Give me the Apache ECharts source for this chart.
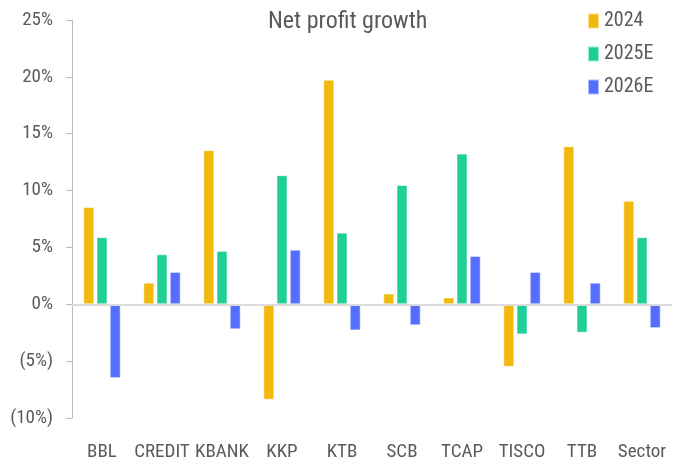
<!DOCTYPE html>
<html>
<head>
<meta charset="utf-8">
<script src="https://cdn.jsdelivr.net/npm/echarts@6/dist/echarts.min.js"></script>
<style>
  html, body { margin: 0; padding: 0; background: #fff; }
  #chart { width: 680px; height: 467px; }
</style>
</head>
<body>
<div id="chart"></div>
<script>
// banks
const banks = ['BBL', 'CREDIT', 'KBANK', 'KKP', 'KTB', 'SCB', 'TCAP', 'TISCO', 'TTB', 'Sector']

// net profit growth, %
const growth2024 = [8.55, 1.9, 13.55, -8.4, 19.75, 0.95, 0.6, -5.5, 13.9, 9.1]
const growth2025E = [5.9, 4.4, 4.7, 11.35, 6.3, 10.5, 13.25, -2.65, -2.5, 5.9]
const growth2026E = [-6.5, 2.85, -2.2, 4.8, -2.3, -1.85, 4.25, 2.85, 1.9, -2.1]

const font = '"Liberation Sans Narrow", "Roboto Condensed", Roboto, sans-serif'
const textColor = '#5a5a5a'

const chart = echarts.init(document.getElementById('chart'))

const barSeries = (name, data, color) => ({
  name: name,
  type: 'bar',
  data: data,
  barWidth: 11,
  barGap: '20%',
  itemStyle: {
    color: color,
    borderColor: 'rgba(255,255,255,0.55)',
    borderWidth: 1
  }
})

const series = [
  barSeries('2024', growth2024, '#F0B90B'),
  barSeries('2025E', growth2025E, '#20CF98'),
  barSeries('2026E', growth2026E, '#566EFF')
]

// zero line
series[0].markLine = {
  silent: true,
  symbol: 'none',
  label: { show: false },
  lineStyle: { color: '#dcdcdc', width: 2, type: 'solid' },
  data: [{ yAxis: 0 }]
}

chart.setOption({
  animation: false,
  title: {
    text: 'Net profit growth',
    left: 263,
    top: 5,
    textStyle: { fontFamily: font, fontSize: 24, fontWeight: 'normal', color: textColor }
  },
  legend: {
    orient: 'vertical',
    left: 582,
    top: 6,
    itemWidth: 11,
    itemHeight: 15,
    itemGap: 13,
    icon: 'rect',
    textStyle: { fontFamily: font, fontSize: 20, color: textColor }
  },
  grid: { left: 72, right: 8, top: 20, bottom: 49 },
  xAxis: {
    type: 'category',
    data: banks,
    axisLine: { show: false, onZero: false },
    axisTick: { show: false },
    axisLabel: { interval: 0, margin: 25, fontFamily: font, fontSize: 19, color: textColor }
  },
  yAxis: {
    type: 'value',
    min: -10,
    max: 25,
    interval: 5,
    axisLine: { show: true, lineStyle: { color: '#bdbdbd' } },
    axisTick: { show: true, length: 6, lineStyle: { color: '#bdbdbd' } },
    splitLine: { show: false },
    axisLabel: {
      margin: 19,
      fontFamily: font,
      fontSize: 19,
      color: textColor,
      formatter: v => v < 0 ? '(' + Math.abs(v) + '%)' : v + '%'
    }
  },
  series: series
})
</script>
</body>
</html>
